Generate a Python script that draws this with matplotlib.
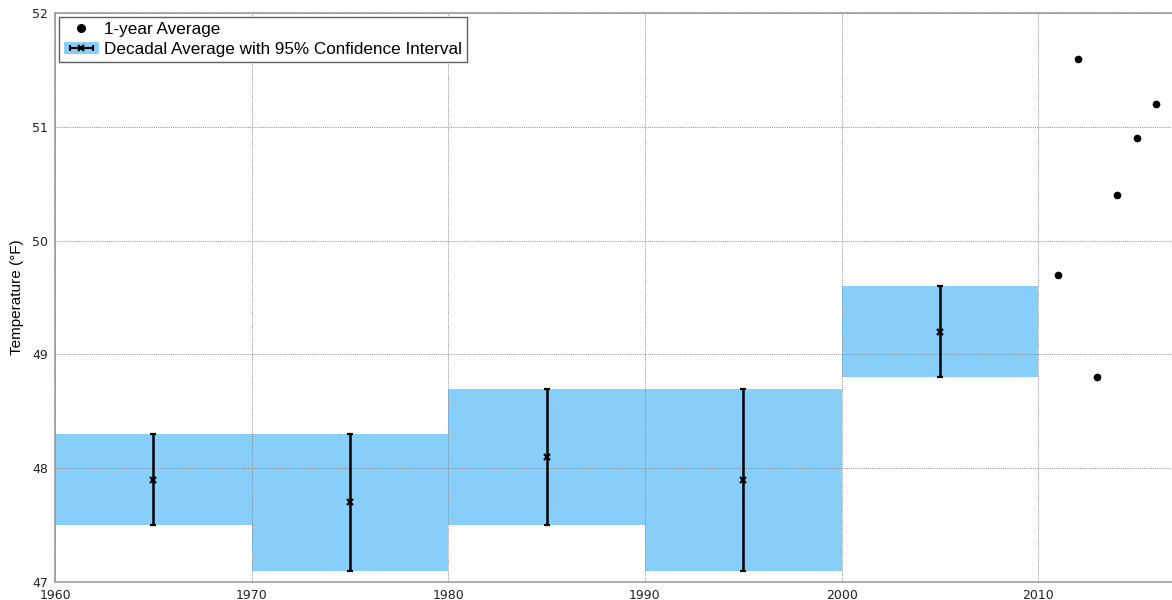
import matplotlib

matplotlib.use("Agg")
import matplotlib.pyplot as plt
from matplotlib.patches import Patch
from matplotlib.lines import Line2D
from matplotlib.legend_handler import HandlerLine2D

# decadal averages with 95% confidence interval
decade_start = [1960, 1970, 1980, 1990, 2000]
decade_mean = [47.9, 47.7, 48.1, 47.9, 49.2]
ci_low = [47.5, 47.1, 47.5, 47.1, 48.8]
ci_high = [48.3, 48.3, 48.7, 48.7, 49.6]

# single year averages after 2010
years = [2011, 2012, 2013, 2014, 2015, 2016]
year_avg = [49.7, 51.6, 48.8, 50.4, 50.9, 51.2]

BLUE = "#87cefa"
GRID = "#8c8c8c"

fig = plt.figure(figsize=(11.72, 6.0), dpi=100)
ax = fig.add_axes([55 / 1172, 18 / 600, 1 - 55 / 1172, 569 / 600])

for x0, lo, hi in zip(decade_start, ci_low, ci_high):
    ax.bar(x0, hi - lo, width=10, bottom=lo, align="edge", color=BLUE,
           linewidth=0, zorder=1)

mid = [d + 5 for d in decade_start]
err = [[m - lo for m, lo in zip(decade_mean, ci_low)],
       [hi - m for m, hi in zip(decade_mean, ci_high)]]
ax.errorbar(mid, decade_mean, yerr=err, fmt="x", color="black", ms=4.5,
            mew=1.6, elinewidth=1.8, capsize=2, capthick=1.8, zorder=3)

ax.plot(years, year_avg, "o", color="black", ms=4.5, zorder=3)

ax.set_xlim(1960, 2016.8)
ax.set_ylim(47, 52)
ax.set_xticks([1960, 1970, 1980, 1990, 2000, 2010])
ax.set_yticks([47, 48, 49, 50, 51, 52])
ax.grid(True, color=GRID, linestyle=(0, (1, 1.2)), linewidth=0.7, zorder=2)
ax.set_axisbelow(False)
for s in ("left", "top", "bottom"):
    ax.spines[s].set_color("#a0a0a0")
    ax.spines[s].set_linewidth(1.2)
ax.spines["right"].set_visible(False)
ax.tick_params(axis="both", length=0, labelsize=9, colors="#202020")
ax.tick_params(axis="x", pad=5)
ax.tick_params(axis="y", pad=5)
ax.set_ylabel("Temperature (\u00b0F)", fontsize=11, family="Liberation Sans",
              labelpad=6)

# legend handle for the decadal series: blue box, horizontal bar with caps, x
caps = Line2D([], [], color="black", lw=1.5, marker="|", ms=5, mew=1.5)
cross = Line2D([], [], color="black", lw=0, marker="x", ms=4, mew=1.5)
handles = [
    Line2D([], [], marker="o", color="black", linestyle="none", ms=5.5),
    (Patch(facecolor=BLUE, linewidth=0), caps, cross),
]
labels = ["1-year Average", "Decadal Average with 95% Confidence Interval"]
leg = ax.legend(handles, labels, loc="upper left", fancybox=False,
                framealpha=1, edgecolor="#606060",
                prop={"family": "Liberation Sans", "size": 12.3},
                handler_map={caps: HandlerLine2D(numpoints=2)},
                borderaxespad=0.25, handlelength=2.0, handletextpad=0.3,
                labelspacing=0.25, borderpad=0.3)
leg.get_frame().set_linewidth(1.0)

fig.savefig("out.png", dpi=100)
